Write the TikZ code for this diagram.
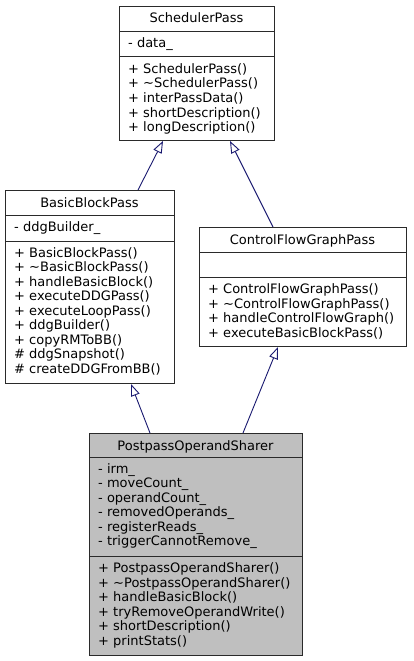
\documentclass[tikz,border=0pt]{standalone}
\usepackage{fontspec}
\setmainfont{DejaVu Sans}
\usetikzlibrary{arrows.meta,calc}
\definecolor{edgeblue}{HTML}{191970}
\definecolor{boxgray}{HTML}{BFBFBF}
\definecolor{frame}{HTML}{2A2A2A}
\begin{document}
\begin{tikzpicture}[x=1pt,y=-1pt,
  classbox/.style={draw=frame,line width=1pt,inner sep=0pt,anchor=north west},
  sepline/.style={draw=frame,line width=1pt},
  member/.style={anchor=base west,inner sep=0pt,font=\fontsize{13}{14.5}\selectfont},
  title/.style={anchor=base,inner sep=0pt,font=\fontsize{13}{14.5}\selectfont},
  inherit/.style={draw=edgeblue,line width=0.9pt,-{Triangle[open,length=12pt,width=9pt,fill=white]}}]
\useasboundingbox[fill=white] (0,0) rectangle (413,661);

% SchedulerPass
\node[classbox,fill=white,minimum width=155pt,minimum height=134pt] (sp) at (119,6) {};
\draw[sepline] (119,32) -- (274,32);
\draw[sepline] (119,57) -- (274,57);
\node[title] (spt) at (196.5,23) {SchedulerPass};
\node[member] (spa1) at (128,48) {- data\_};
\foreach \t [count=\i] in {+ SchedulerPass(),+ \char`\~SchedulerPass(),+ interPassData(),+ shortDescription(),+ longDescription()}
  \node[member] (spm\i) at (128,{73.5+(\i-1)*14.5}) {\t};

% BasicBlockPass
\node[classbox,fill=white,minimum width=169pt,minimum height=193pt] (bb) at (5,190) {};
\draw[sepline] (5,215) -- (174,215);
\draw[sepline] (5,241) -- (174,241);
\node[title] (bbt) at (89.5,207) {BasicBlockPass};
\node[member] (bba1) at (14,231) {- ddgBuilder\_};
\foreach \t [count=\i] in {+ BasicBlockPass(),+ \char`\~BasicBlockPass(),+ handleBasicBlock(),+ executeDDGPass(),+ executeLoopPass(),+ ddgBuilder(),+ copyRMToBB(),\# ddgSnapshot(),\# createDDGFromBB()}
  \node[member] (bbm\i) at (14,{257+(\i-1)*14.5}) {\t};

% ControlFlowGraphPass
\node[classbox,fill=white,minimum width=207pt,minimum height=119pt] (cf) at (199,227) {};
\draw[sepline] (199,252) -- (406,252);
\draw[sepline] (199,277) -- (406,277);
\node[title] (cft) at (302.5,244) {ControlFlowGraphPass};
\foreach \t [count=\i] in {+ ControlFlowGraphPass(),+ \char`\~ControlFlowGraphPass(),+ handleControlFlowGraph(),+ executeBasicBlockPass()}
  \node[member] (cfm\i) at (208,{293.5+(\i-1)*14.5}) {\t};

% PostpassOperandSharer
\node[classbox,fill=boxgray,minimum width=213pt,minimum height=222pt] (po) at (89,433) {};
\draw[sepline] (89,457) -- (302,457);
\draw[sepline] (89,556) -- (302,556);
\node[title] (pot) at (195.5,450) {PostpassOperandSharer};
\foreach \t [count=\i] in {- irm\_,- moveCount\_,- operandCount\_,- removedOperands\_,- registerReads\_,- triggerCannotRemove\_}
  \node[member] (poa\i) at (98,{473+(\i-1)*14.5}) {\t};
\foreach \t [count=\i] in {+ PostpassOperandSharer(),+ \char`\~PostpassOperandSharer(),+ handleBasicBlock(),+ tryRemoveOperandWrite(),+ shortDescription(),+ printStats()}
  \node[member] (pom\i) at (98,{572.5+(\i-1)*14.5}) {\t};

% inheritance edges
\draw[inherit] ($(bb.north west)+(133,0)$) -- ($(sp.south west)+(44,0)$);
\draw[inherit] ($(cf.north west)+(74,0)$) -- ($(sp.south west)+(111,0)$);
\draw[inherit] ($(po.north west)+(61,0)$) -- ($(bb.south west)+(126,0)$);
\draw[inherit] ($(po.north west)+(154,0)$) -- ($(cf.south west)+(79,0)$);
\end{tikzpicture}
\end{document}
